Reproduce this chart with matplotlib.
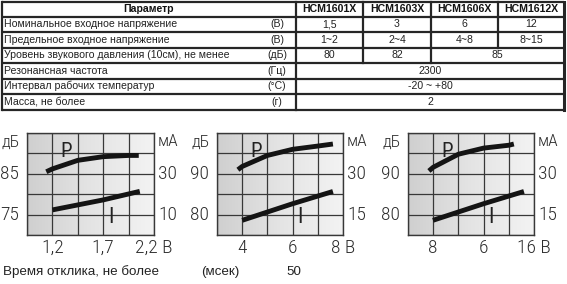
import numpy as np
import matplotlib
matplotlib.use("Agg")
import matplotlib.pyplot as plt
from matplotlib.colors import LinearSegmentedColormap
from matplotlib.transforms import blended_transform_factory, ScaledTranslation

# ---------------- table content ----------------
header_param = "Параметр"
models = ["HCM1601X", "HCM1603X", "HCM1606X", "HCM1612X"]
params = ["Номинальное входное напряжение",
          "Предельное входное напряжение",
          "Уровень звукового давления (10см), не менее",
          "Резонансная частота",
          "Интервал рабочих температур",
          "Масса, не более"]
units = ["(В)", "(В)", "(дБ)", "(Гц)", "(°С)", "(г)"]
rated_voltage = ["1,5", "3", "6", "12"]
voltage_range = ["1~2", "2~4", "4~8", "8~15"]
spl_values = ["80", "82", "85"]
spl_spans = [1, 1, 2]
resonance = "2300"
temp_range = "-20 ~ +80"
mass = "2"
response_label = "Время отклика, не более"
response_unit = "(мсек)"
response_value = "50"

# ---------------- characteristic curves ----------------
# HCM1601X
p1_v = [1.14, 1.20, 1.45, 1.70, 1.95, 2.05]
p1_db = [85.5, 86.2, 88.3, 89.2, 89.5, 89.5]
i1_v = [1.20, 1.70, 2.06]
i1_ma = [12.3, 17.2, 21.4]
# HCM1606X
p2_v = [3.83, 4.0, 5.0, 6.0, 7.0, 7.6]
p2_db = [91.0, 91.8, 94.5, 96.0, 96.8, 97.3]
i2_v = [4.0, 6.0, 7.6]
i2_ma = [12.9, 19.0, 23.5]
# HCM1612X
p3_v = [7.66, 8.0, 10.0, 12.0, 14.0, 14.4]
p3_db = [90.7, 91.6, 94.8, 96.3, 97.0, 97.3]
i3_v = [7.98, 12.0, 15.2]
i3_ma = [12.9, 19.0, 23.5]

charts = [
    dict(p=(p1_v, p1_db), i=(i1_v, i1_ma), x0=0.95, dx=0.25, y0=70, dy=5, r0=0, dr=10,
         xlab={1.2: "1,2", 1.7: "1,7", 2.2: "2,2 В"}, ylab={75: "75", 85: "85"},
         rlab={10: "10", 30: "30"}),
    dict(p=(p2_v, p2_db), i=(i2_v, i2_ma), x0=3, dx=1, y0=75, dy=5, r0=7.5, dr=7.5,
         xlab={4: "4", 6: "6", 8: "8 В"}, ylab={80: "80", 90: "90"},
         rlab={15: "15", 30: "30"}),
    dict(p=(p3_v, p3_db), i=(i3_v, i3_ma), x0=6, dx=2, y0=75, dy=5, r0=7.5, dr=7.5,
         xlab={8: "8", 12: "6", 16: "16 В"}, ylab={80: "80", 90: "90"},
         rlab={15: "15", 30: "30"}),
]

W, H = 567, 284
fig = plt.figure(figsize=(W / 100, H / 100), dpi=100)
fig.patch.set_facecolor("white")

# ---------------- table (pixel coordinates) ----------------
tab = fig.add_axes([0, 0, 1, 1])
tab.set_xlim(0, W)
tab.set_ylim(H, 0)
tab.axis("off")

tf = ["Liberation Sans", "Arimo", "DejaVu Sans"]
col_x = [2, 296, 363, 431, 498, 564]
row_y = [1.5, 16.5, 32, 47.5, 63, 78.5, 94, 109.5]
lc = "#262626"
lw = 1.6

for y in row_y:
    tab.plot([col_x[0], col_x[-1]], [y, y], color=lc, lw=lw, solid_capstyle="butt")
tab.plot([col_x[0]] * 2, [row_y[0], row_y[-1]], color=lc, lw=lw)
tab.plot([col_x[-1]] * 2, [row_y[0], row_y[-1]], color=lc, lw=lw + 0.6)
tab.plot([col_x[1]] * 2, [row_y[0], row_y[-1]], color=lc, lw=lw)
# inner vertical dividers, row by row (merged cells skip them)
span_rows = [[1, 1, 1, 1], [1, 1, 1, 1], [1, 1, 1, 1], spl_spans, [4], [4], [4]]
for r, spans in enumerate(span_rows):
    xi = 1
    for s in spans[:-1]:
        xi += s
        tab.plot([col_x[xi]] * 2, [row_y[r], row_y[r + 1]], color=lc, lw=lw)

def rc(r):
    return (row_y[r] + row_y[r + 1]) / 2

fs_t = 7.6
tab.text((col_x[0] + col_x[1]) / 2, rc(0), header_param, ha="center", va="center",
         fontsize=fs_t, fontweight="bold", family=tf, color="#111")
for k, m in enumerate(models):
    tab.text((col_x[k + 1] + col_x[k + 2]) / 2, rc(0), m, ha="center", va="center",
             fontsize=fs_t, fontweight="bold", family=tf, color="#111")
for r, (p, u) in enumerate(zip(params, units)):
    tab.text(4, rc(r + 1), p, ha="left", va="center", fontsize=fs_t, family=tf, color="#222")
    tab.text(277, rc(r + 1), u, ha="center", va="center", fontsize=fs_t, family=tf, color="#222")

row_vals = [(rated_voltage, [1, 1, 1, 1]), (voltage_range, [1, 1, 1, 1]),
            (spl_values, spl_spans), ([resonance], [4]), ([temp_range], [4]), ([mass], [4])]
for r, (vals, spans) in enumerate(row_vals):
    xi = 1
    for v, s in zip(vals, spans):
        tab.text((col_x[xi] + col_x[xi + s]) / 2, rc(r + 1), v, ha="center", va="center",
                 fontsize=fs_t, family=tf, color="#222")
        xi += s

tab.text(3, 272, response_label, ha="left", va="center", fontsize=9.6, family=tf, color="#222")
tab.text(220, 272, response_unit, ha="center", va="center", fontsize=9.6, family=tf, color="#222")
tab.text(294, 272, response_value, ha="center", va="center", fontsize=9.6, family=tf, color="#222")

# ---------------- graphs ----------------
gf = ["Roboto Condensed", "PT Sans Narrow", "Fira Sans Condensed", "Open Sans Condensed",
      "Archivo Narrow", "Asap Condensed", "DejaVu Sans"]
gw = "light"
grey = LinearSegmentedColormap.from_list("bg", ["#cfcfcf", "#e4e4e4", "#f3f3f3"])
boxes = [(27, 154), (217, 343), (408, 534)]
top, bot = 133, 235
gc = "#383838"
fs_g = 14
lab_c = "#2e2e2e"

def off(dx, dy):
    return ScaledTranslation(dx / 100, dy / 100, fig.dpi_scale_trans)

for (xl, xr), c in zip(boxes, charts):
    ax = fig.add_axes([xl / W, 1 - bot / H, (xr - xl) / W, (bot - top) / H])
    x1 = c["x0"] + 5 * c["dx"]
    y1 = c["y0"] + 5 * c["dy"]
    ax.set_xlim(c["x0"], x1)
    ax.set_ylim(c["y0"], y1)
    ax.imshow(np.linspace(0, 1, 256)[None, :], extent=[0, 1, 0, 1], transform=ax.transAxes,
              aspect="auto", cmap=grey, zorder=0)
    xt = [c["x0"] + k * c["dx"] for k in range(6)]
    yt = [c["y0"] + k * c["dy"] for k in range(6)]
    ax.set_xticks(xt)
    ax.set_yticks(yt)
    ax.set_xticklabels([""] * 6)
    ax.set_yticklabels([""] * 6)
    ax.tick_params(length=0)
    ax.grid(True, color=gc, lw=0.9, zorder=1)
    ax.set_axisbelow(False)
    for s in ax.spines.values():
        s.set_color(gc)
        s.set_linewidth(1.0)

    ax.plot(*c["p"], color="#141414", lw=3.5, solid_capstyle="butt", zorder=3)

    axr = ax.twinx()
    axr.set_ylim(c["r0"], c["r0"] + 5 * c["dr"])
    axr.set_yticks([])
    for s in axr.spines.values():
        s.set_visible(False)
    axr.plot(*c["i"], color="#141414", lw=3.5, solid_capstyle="butt", zorder=3)

    tx = blended_transform_factory(ax.transData, ax.transAxes)
    ty = blended_transform_factory(ax.transAxes, ax.transData)
    tyr = blended_transform_factory(axr.transAxes, axr.transData)
    for xv, s in c["xlab"].items():
        ax.text(xv, 0, s, transform=tx + off(0, -13), ha="center", va="center",
                fontsize=fs_g, family=gf, fontweight=gw, color=lab_c)
    for yv, s in c["ylab"].items():
        ax.text(0, yv, s, transform=ty + off(-8, 0), ha="right", va="center",
                fontsize=fs_g, family=gf, fontweight=gw, color=lab_c)
    for yv, s in c["rlab"].items():
        axr.text(1, yv, s, transform=tyr + off(4, 0), ha="left", va="center",
                 fontsize=fs_g, family=gf, fontweight=gw, color=lab_c)
    ax.text(0, 1, "дБ", transform=ax.transAxes + off(-7, -9), ha="right", va="center",
            fontsize=12.5, family=gf, fontweight=gw, color=lab_c)
    ax.text(1, 1, "мА", transform=ax.transAxes + off(4, -9), ha="left", va="center",
            fontsize=12.5, family=gf, fontweight=gw, color=lab_c)
    ax.text(0.31, 0.82, "P", transform=ax.transAxes, ha="center", va="center",
            fontsize=15, family=gf, fontweight="normal", color="#222", zorder=4)
    ax.text(0.66, 0.17, "I", transform=ax.transAxes, ha="center", va="center",
            fontsize=16, family=gf, fontweight="normal", color="#222", zorder=4)

fig.savefig("out.png", dpi=100, facecolor="white")
